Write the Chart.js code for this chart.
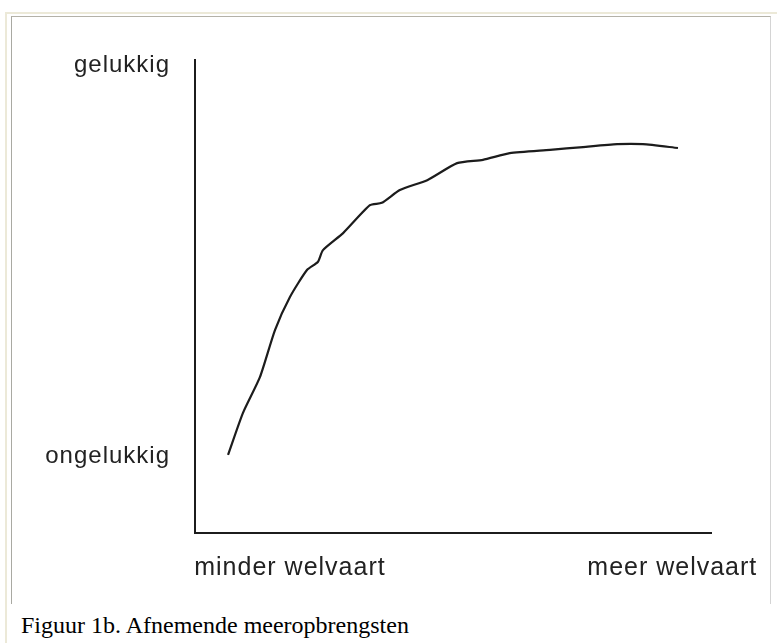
<!DOCTYPE html>
<html>
<head>
<meta charset="utf-8">
<script src="https://cdn.jsdelivr.net/npm/chart.js@4.4.1/dist/chart.umd.min.js"></script>
<style>
  html, body { margin: 0; padding: 0; background: #ffffff; width: 777px; height: 643px; overflow: hidden; }
  #outer { position: absolute; left: 5px; top: 12px; width: 800px; height: 700px;
           border-left: 2px solid #ece9d8; border-top: 2px solid #ece9d8; }
  #inner { position: absolute; left: 11px; top: 16px; width: 758px; height: 587px;
           border-left: 1px solid #a9a9a2; border-top: 1px solid #b4b2a8; border-right: 1px solid #d4d4d4; }
  #wrap { position: absolute; left: 12px; top: 18px; width: 757px; height: 584px; }
  #caption { position: absolute; left: 21px; top: 613px; font: 24px "Liberation Serif", "Times New Roman", serif;
             line-height: 24px; color: #000; white-space: nowrap; }
</style>
</head>
<body>
<div id="outer"></div>
<div id="inner"></div>
<div id="wrap"><canvas id="c" width="757" height="584"></canvas></div>
<div id="caption">Figuur 1b. Afnemende meeropbrengsten</div>
<script>
// Curve: welvaart (x) vs geluk (y) (0..100 scale)
const welvaart = [6.4, 9.3, 12.6, 15.5, 18.4, 21.7, 23.8, 24.8, 28.7, 33.9, 36.2, 39.7, 45.0, 50.8, 55.8, 61.0, 68.8, 75.2, 81.8, 86.8, 93.6];
const geluk    = [16.5, 25.4, 33.0, 42.9, 49.9, 55.6, 57.3, 59.8, 63.4, 69.3, 69.8, 72.5, 74.6, 78.2, 78.9, 80.3, 81.0, 81.6, 82.2, 82.2, 81.4];

// Axis labels
const yTickValues = [16.1, 98.9];
const yTickLabels = ["ongelukkig", "gelukkig"];
const xTickValues = [18.4, 92.5];
const xTickLabels = ["minder welvaart", "meer welvaart"];

const points = welvaart.map((x, i) => ({ x: x, y: geluk[i] }));

const spacingPlugin = {
  id: 'spacing',
  beforeDraw(chart) { chart.ctx.letterSpacing = '1px'; }
};

new Chart(document.getElementById('c'), {
  type: 'scatter',
  data: {
    datasets: [{
      data: points,
      showLine: true,
      borderColor: '#1c1c1c',
      borderWidth: 2.2,
      pointRadius: 0,
      tension: 0.2,
      fill: false
    }]
  },
  options: {
    responsive: false,
    animation: false,
    layout: { padding: { left: 0, top: 42, right: 58, bottom: 0 } },
    plugins: { legend: { display: false }, tooltip: { enabled: false } },
    scales: {
      x: {
        type: 'linear', min: 0, max: 100,
        grid: { display: false, drawTicks: false },
        border: { display: true, color: '#1c1c1c', width: 2 },
        afterBuildTicks: (s) => { s.ticks = xTickValues.map(v => ({ value: v })); },
        afterFit: (s) => { s.height = 69; s.paddingLeft = 0; s.paddingRight = 0; },
        ticks: {
          autoSkip: false, maxRotation: 0, minRotation: 0, padding: 20,
          color: '#222', font: { family: '"Liberation Sans", Arial, sans-serif', size: 25 },
          callback: (v, i) => xTickLabels[i]
        }
      },
      y: {
        type: 'linear', min: 0, max: 100,
        grid: { display: false, drawTicks: false },
        border: { display: true, color: '#1c1c1c', width: 2 },
        afterBuildTicks: (s) => { s.ticks = yTickValues.map(v => ({ value: v })); },
        afterFit: (s) => { s.width = 183; s.paddingTop = 0; s.paddingBottom = 0; },
        ticks: {
          autoSkip: false, padding: 25,
          color: '#222', font: { family: '"Liberation Sans", Arial, sans-serif', size: 24 },
          callback: (v, i) => yTickLabels[i]
        }
      }
    }
  },
  plugins: [spacingPlugin]
});
</script>
</body>
</html>
